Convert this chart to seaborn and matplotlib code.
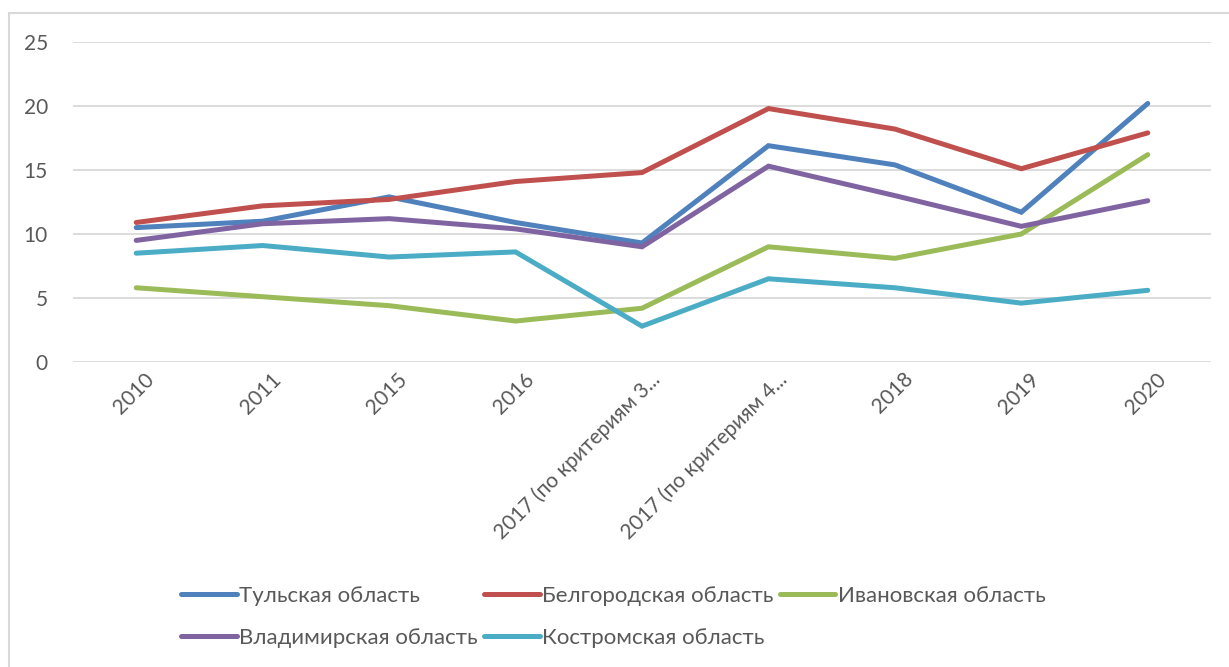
import matplotlib
matplotlib.use("Agg")
import matplotlib.pyplot as plt
import matplotlib.transforms as mtransforms
from matplotlib.patches import Rectangle
import seaborn as sns
import pandas as pd

categories = ["2010", "2011", "2015", "2016",
              "2017 (по критериям 3...", "2017 (по критериям 4...",
              "2018", "2019", "2020"]

regions = ["Тульская область", "Белгородская область", "Ивановская область",
           "Владимирская область", "Костромская область"]

tula = [10.5, 11.0, 12.9, 10.9, 9.3, 16.9, 15.4, 11.7, 20.2]
belgorod = [10.9, 12.2, 12.7, 14.1, 14.8, 19.8, 18.2, 15.1, 17.9]
ivanovo = [5.8, 5.1, 4.4, 3.2, 4.2, 9.0, 8.1, 10.0, 16.2]
vladimir = [9.5, 10.8, 11.2, 10.4, 9.0, 15.3, 13.0, 10.6, 12.6]
kostroma = [8.5, 9.1, 8.2, 8.6, 2.8, 6.5, 5.8, 4.6, 5.6]

colors = ["#4F81BD", "#C0504D", "#9BBB59", "#8064A2", "#4BACC6"]

series = [tula, belgorod, ivanovo, vladimir, kostroma]
rows = []
for name, vals in zip(regions, series):
    for cat, v in zip(categories, vals):
        rows.append({"Год": cat, "Регион": name, "Значение": v})
df = pd.DataFrame(rows)

sns.set_theme(style="white")
plt.rcParams["font.family"] = ["Lato", "DejaVu Sans"]
text_color = "#595959"

fig = plt.figure(figsize=(12.29, 6.67), dpi=100)
ax = fig.add_axes([73 / 1229, 1 - 362 / 667, (1211 - 73) / 1229, 320 / 667])

sns.lineplot(data=df, x="Год", y="Значение", hue="Регион", hue_order=regions,
             palette=colors, sort=False, linewidth=3.6, ax=ax, legend=False)
for line in ax.lines:
    line.set_solid_capstyle("round")
    line.set_solid_joinstyle("miter")

ax.set_xlim(-0.5, len(categories) - 0.5)
ax.set_ylim(0, 25)
ax.set_yticks([0, 5, 10, 15, 20, 25])
ax.yaxis.grid(True, color="#D9D9D9", linewidth=1.3)
ax.set_axisbelow(True)
for s in ax.spines.values():
    s.set_visible(False)
ax.set_xlabel("")
ax.set_ylabel("")
ax.tick_params(axis="both", length=0, colors=text_color, labelsize=15)
ax.tick_params(axis="y", pad=18)
ax.tick_params(axis="x", pad=5)
ax.set_xticks(range(len(categories)))
ax.set_xticklabels(categories, rotation=45, ha="right", va="top",
                   rotation_mode="anchor")
offset = mtransforms.ScaledTranslation(8 / 100, 0, fig.dpi_scale_trans)
for lbl in ax.get_xticklabels():
    lbl.set_transform(lbl.get_transform() + offset)

# row-major legend order like in the original: columns filled top to bottom
order = [0, 3, 1, 4, 2]
handles = [plt.Line2D([], [], color=colors[i], linewidth=3.6,
                      solid_capstyle="round") for i in order]
labels = [regions[i] for i in order]
fig.legend(handles, labels, loc="upper left",
           bbox_to_anchor=(181 / 1229, 1 - 586 / 667), ncol=3, frameon=False,
           fontsize=16, labelcolor=text_color, handlelength=2.5,
           handletextpad=0.1, columnspacing=0.3, labelspacing=0.98,
           borderpad=0, borderaxespad=0)

fig.patches.append(Rectangle((9 / 1229, -0.1), 1.2, (1 - 13 / 667) + 0.1,
                             transform=fig.transFigure, fill=False,
                             edgecolor="#D9D9D9", linewidth=1.5))

fig.savefig("out.png", dpi=100, facecolor="white")
